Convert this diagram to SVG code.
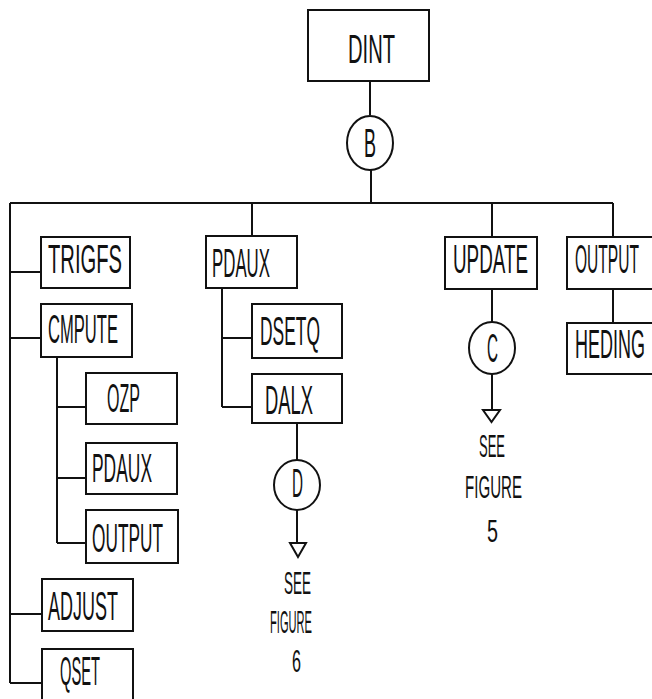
<svg xmlns="http://www.w3.org/2000/svg" width="652" height="699" viewBox="0 0 652 699">
<style>
.box{fill:#fff;stroke:#111;stroke-width:2}
.ln{stroke:#111;stroke-width:2;fill:none}
.t{font-family:"Liberation Sans","DejaVu Sans",sans-serif;font-size:41px;fill:#111}
.s{font-family:"Liberation Sans","DejaVu Sans",sans-serif;font-size:31px;fill:#111}
</style>
<rect width="652" height="699" fill="#fff"/>
<g id="connectors">
<path class="ln" d="M370 81V115M371 170V203M10 203H613M10 203V683M10 272H41M10 338H41M10 614H42M10 683H42"/>
<path class="ln" d="M57 357V543M57 407H86M57 478H86M57 543H86"/>
<path class="ln" d="M252 203V236M222 288V407M222 338H252M222 407H252M297 423V460M297 510V543"/>
<path class="ln" d="M492 203V237M492 289V323M492 374V410M613 203V237M613 289V323"/>
<polygon class="ln" points="483,410 500,410 491.5,422"/>
<polygon class="ln" points="290,543 306,543 298,557"/>
</g>
<g id="dint"><rect class="box" x="308" y="10" width="121" height="71"/><text class="t" transform="translate(348,63) scale(0.4,1)" font-size="48" textLength="117.5" lengthAdjust="spacingAndGlyphs">DINT</text></g>
<g id="conB"><ellipse class="ln" cx="370" cy="143" rx="23" ry="27"/><text class="t" transform="translate(364,157) scale(0.4,1)" textLength="30" lengthAdjust="spacingAndGlyphs">B</text></g>
<g id="trigfs"><rect class="box" x="41" y="237" width="89" height="51"/><text class="t" transform="translate(48,273) scale(0.4,1)" textLength="185" lengthAdjust="spacingAndGlyphs">TRIGFS</text></g>
<g id="cmpute"><rect class="box" x="41" y="304" width="91" height="53"/><text class="t" transform="translate(48,343) scale(0.4,1)" textLength="175" lengthAdjust="spacingAndGlyphs">CMPUTE</text></g>
<g id="ozp"><rect class="box" x="86" y="373" width="91" height="51"/><text class="t" transform="translate(107,412) scale(0.4,1)" textLength="82.5" lengthAdjust="spacingAndGlyphs">OZP</text></g>
<g id="pdaux1"><rect class="box" x="86" y="443" width="91" height="51"/><text class="t" transform="translate(92,482) scale(0.4,1)" textLength="150" lengthAdjust="spacingAndGlyphs">PDAUX</text></g>
<g id="output1"><rect class="box" x="86" y="510" width="92" height="53"/><text class="t" transform="translate(92,552) scale(0.4,1)" textLength="177.5" lengthAdjust="spacingAndGlyphs">OUTPUT</text></g>
<g id="adjust"><rect class="box" x="42" y="579" width="91" height="52"/><text class="t" transform="translate(48,620) scale(0.4,1)" textLength="175" lengthAdjust="spacingAndGlyphs">ADJUST</text></g>
<g id="qset"><rect class="box" x="42" y="649" width="91" height="60"/><text class="t" transform="translate(60,685) scale(0.4,1)" textLength="100" lengthAdjust="spacingAndGlyphs">QSET</text></g>
<g id="pdaux2"><rect class="box" x="206" y="236" width="91" height="52"/><text class="t" transform="translate(212,277) scale(0.4,1)" textLength="145" lengthAdjust="spacingAndGlyphs">PDAUX</text></g>
<g id="dsetq"><rect class="box" x="252" y="304" width="90" height="54"/><text class="t" transform="translate(260,345) scale(0.4,1)" textLength="150" lengthAdjust="spacingAndGlyphs">DSETQ</text></g>
<g id="dalx"><rect class="box" x="252" y="374" width="90" height="49"/><text class="t" transform="translate(265,414) scale(0.4,1)" textLength="120" lengthAdjust="spacingAndGlyphs">DALX</text></g>
<g id="conD"><ellipse class="ln" cx="297" cy="485" rx="23" ry="25"/><text class="t" transform="translate(292,497) scale(0.4,1)" textLength="27.5" lengthAdjust="spacingAndGlyphs">D</text></g>
<g id="seeD"><text class="s" x="284" y="594" textLength="27" lengthAdjust="spacingAndGlyphs">SEE</text><text class="s" x="270" y="633" textLength="42" lengthAdjust="spacingAndGlyphs">FIGURE</text><text class="s" x="292" y="672" textLength="9" lengthAdjust="spacingAndGlyphs">6</text></g>
<g id="update"><rect class="box" x="445" y="237" width="92" height="52"/><text class="t" transform="translate(453,273) scale(0.4,1)" textLength="187.5" lengthAdjust="spacingAndGlyphs">UPDATE</text></g>
<g id="conC"><ellipse class="ln" cx="492" cy="348" rx="23" ry="26"/><text class="t" transform="translate(487,362) scale(0.4,1)" textLength="27.5" lengthAdjust="spacingAndGlyphs">C</text></g>
<g id="seeC"><text class="s" x="479" y="457" textLength="26" lengthAdjust="spacingAndGlyphs">SEE</text><text class="s" x="465" y="498" textLength="57" lengthAdjust="spacingAndGlyphs">FIGURE</text><text class="s" x="487" y="542" textLength="11" lengthAdjust="spacingAndGlyphs">5</text></g>
<g id="output2"><rect class="box" x="567" y="237" width="100" height="52"/><text class="t" transform="translate(575,273) scale(0.4,1)" textLength="160" lengthAdjust="spacingAndGlyphs">OUTPUT</text></g>
<g id="heding"><rect class="box" x="567" y="323" width="100" height="51"/><text class="t" transform="translate(575,358) scale(0.4,1)" textLength="175" lengthAdjust="spacingAndGlyphs">HEDING</text></g>
</svg>
